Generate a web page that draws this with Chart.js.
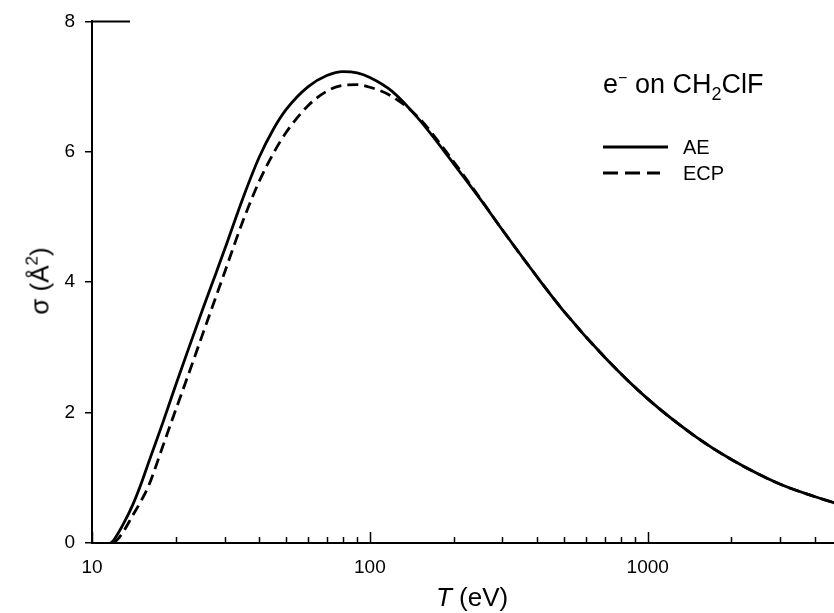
<!DOCTYPE html>
<html>
<head>
<meta charset="utf-8">
<script src="https://cdn.jsdelivr.net/npm/chart.js@4.4.1/dist/chart.umd.min.js"></script>
<style>
  html, body { margin: 0; padding: 0; background: #fff; }
  #wrap { position: relative; width: 834px; height: 613px; overflow: hidden; font-family: "Liberation Sans", Arial, sans-serif; color: #000; }
  canvas { position: absolute; left: 0; top: 0; }
  .txt { position: absolute; white-space: nowrap; line-height: 1; }
</style>
</head>
<body>
<div id="wrap">
  <canvas id="c" width="834" height="613"></canvas>
  <div class="txt" id="title" style="left:603px; top:70px; font-size:27px;">e<sup style="font-size:16px; vertical-align:10px;">&minus;</sup> on CH<sub style="font-size:18px; vertical-align:-7px;">2</sub>ClF</div>
  <div class="txt" style="left:683px; top:137px; font-size:20px;">AE</div>
  <div class="txt" style="left:683px; top:163px; font-size:20px;">ECP</div>
  <div class="txt" id="xtitle" style="left:436px; top:584px; font-size:26px;"><i>T</i> (eV)</div>
  <div class="txt" id="ytitle" style="left:38px; top:281px; font-size:26px; transform: translate(-50%,-50%) rotate(-90deg);">&sigma; (&Aring;<sup style="font-size:17px; vertical-align:11px;">2</sup>)</div>
</div>
<script>
// ---- data ----
const aeEnergy = [11.7, 12, 13, 14, 15, 16, 18, 20, 22, 25, 28, 30, 35, 40, 45, 50, 60, 70, 80, 90, 100, 120, 150, 200, 250, 300, 400, 500, 700, 1000, 1500, 2000, 3000, 4000, 5000];
const aeSigma  = [0, 0.05, 0.30, 0.58, 0.90, 1.24, 1.85, 2.42, 2.92, 3.58, 4.15, 4.50, 5.30, 5.92, 6.35, 6.65, 7.00, 7.17, 7.23, 7.21, 7.14, 6.93, 6.50, 5.82, 5.27, 4.80, 4.08, 3.55, 2.85, 2.21, 1.62, 1.28, 0.90, 0.71, 0.58];
const ecpEnergy = [12.0, 12.5, 13, 14, 15, 16, 18, 20, 22, 25, 28, 30, 35, 40, 45, 50, 60, 70, 80, 90, 100, 120, 150, 200, 250, 300, 400, 500, 700, 1000, 1500, 2000, 3000, 4000, 5000];
const ecpSigma  = [0, 0.08, 0.18, 0.42, 0.64, 0.88, 1.49, 2.04, 2.53, 3.20, 3.79, 4.15, 4.95, 5.55, 5.98, 6.30, 6.71, 6.93, 7.02, 7.03, 6.99, 6.85, 6.52, 5.85, 5.28, 4.80, 4.08, 3.55, 2.85, 2.21, 1.62, 1.28, 0.90, 0.71, 0.58];
const xTickValues = [10, 20, 30, 40, 50, 60, 70, 80, 90, 100, 200, 300, 400, 500, 600, 700, 800, 900, 1000, 2000, 3000, 4000];
const xTickLabels = {10: '10', 100: '100', 1000: '1000'};
const yTickValues = [0, 2, 4, 6, 8];
const seriesNames = ['AE', 'ECP'];

const toPts = (xs, ys) => xs.map((x, i) => ({x: x, y: ys[i]}));

const tickPlugin = {
  id: 'innerTicks',
  afterDraw(chart) {
    const ctx = chart.ctx, xs = chart.scales.x, area = chart.chartArea;
    ctx.save();
    ctx.strokeStyle = '#000';
    ctx.lineWidth = 1.5;
    xTickValues.forEach(v => {
      const px = xs.getPixelForValue(v);
      if (px < area.left - 0.5 || px > area.right + 0.5) return;
      const len = xTickLabels[v] ? 11 : 6;
      ctx.beginPath();
      ctx.moveTo(Math.round(px) + 0.5, area.bottom);
      ctx.lineTo(Math.round(px) + 0.5, area.bottom - len);
      ctx.stroke();
    });
    // short top segment at the y-axis head
    ctx.lineWidth = 2;
    ctx.beginPath();
    ctx.moveTo(area.left, area.top);
    ctx.lineTo(area.left + 38, area.top);
    ctx.stroke();
    // legend samples
    ctx.lineWidth = 3;
    ctx.beginPath();
    ctx.moveTo(603, 147); ctx.lineTo(668, 147);
    ctx.stroke();
    ctx.setLineDash([15, 7]);
    ctx.beginPath();
    ctx.moveTo(603, 173); ctx.lineTo(660, 173);
    ctx.stroke();
    ctx.restore();
  }
};

new Chart(document.getElementById('c'), {
  type: 'line',
  data: {
    datasets: [
      { label: seriesNames[0], data: toPts(aeEnergy, aeSigma), borderColor: '#000', borderWidth: 2.8, pointRadius: 0, fill: false, cubicInterpolationMode: 'monotone' },
      { label: seriesNames[1], data: toPts(ecpEnergy, ecpSigma), borderColor: '#000', borderWidth: 2.8, borderDash: [11, 6], pointRadius: 0, fill: false, cubicInterpolationMode: 'monotone' }
    ]
  },
  options: {
    responsive: false,
    animation: false,
    devicePixelRatio: 1,
    layout: { padding: { top: 19, right: 0, left: 0, bottom: 0 } },
    plugins: { legend: { display: false }, tooltip: { enabled: false }, title: { display: false } },
    scales: {
      x: {
        type: 'logarithmic',
        min: 10, max: 4680,
        afterFit: s => { s.height = 70; },
        afterBuildTicks: s => { s.ticks = xTickValues.map(v => ({value: v, major: !!xTickLabels[v]})); },
        ticks: {
          autoSkip: false, maxRotation: 0, padding: 13, color: '#000',
          font: { family: 'Liberation Sans', size: 19 },
          callback: v => xTickLabels[v] || ''
        },
        grid: { display: true, drawOnChartArea: false, drawTicks: false, color: 'rgba(0,0,0,0)' },
        border: { display: true, color: '#000', width: 2 }
      },
      y: {
        min: 0, max: 8,
        afterFit: s => { s.width = 92; },
        afterBuildTicks: s => { s.ticks = yTickValues.map(v => ({value: v})); },
        ticks: { padding: 10, color: '#000', font: { family: 'Liberation Sans', size: 19 } },
        grid: { drawOnChartArea: false, drawTicks: true, tickLength: 7, color: '#000', lineWidth: 1.5 },
        border: { display: true, color: '#000', width: 2 }
      }
    }
  },
  plugins: [tickPlugin]
});
</script>
</body>
</html>
